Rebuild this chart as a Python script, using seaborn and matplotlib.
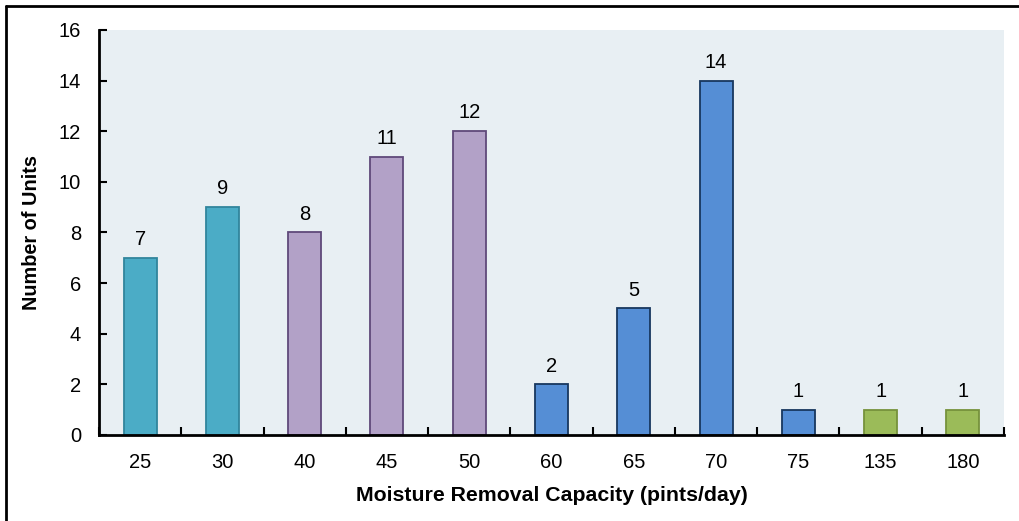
import matplotlib
matplotlib.use("Agg")
import matplotlib.pyplot as plt
from matplotlib.lines import Line2D
import seaborn as sns
import pandas as pd

capacity = ["25", "30", "40", "45", "50", "60", "65", "70", "75", "135", "180"]
units = [7, 9, 8, 11, 12, 2, 5, 14, 1, 1, 1]
group = ["a", "a", "b", "b", "b", "c", "c", "c", "c", "d", "d"]

fills = {"a": "#4BACC6", "b": "#B2A1C7", "c": "#558ED5", "d": "#9BBB59"}
edges = {"a": "#31859C", "b": "#5F497A", "c": "#17375E", "d": "#76923C"}

df = pd.DataFrame({"capacity": capacity, "units": units, "group": group})

sns.set_theme(style="white")
plt.rcParams["font.family"] = ["Liberation Sans", "DejaVu Sans"]

fig = plt.figure(figsize=(10.2, 5.21), dpi=100)
ax = fig.add_axes([99 / 1020, 1 - 435 / 521, (1004 - 99) / 1020, (435 - 30) / 521])
ax.set_facecolor("#E8EFF3")

sns.barplot(data=df, x="capacity", y="units", hue="group", palette=fills,
            dodge=False, width=0.4, legend=False, ax=ax, saturation=1)

for patch, g in zip(ax.patches, group):
    patch.set_edgecolor(edges[g])
    patch.set_linewidth(1.3)

for i, v in enumerate(units):
    ax.text(i, v + 0.35, str(v), ha="center", va="bottom", fontsize=14.5, color="black")

ax.set_xlim(-0.5, len(capacity) - 0.5)
ax.set_ylim(0, 16)
ax.set_yticks(range(0, 17, 2))

# category boundary ticks pointing into the plot
ax.set_xticks([i + 0.5 for i in range(-1, len(capacity))], minor=True)
ax.set_xticks(range(len(capacity)))
ax.tick_params(axis="x", which="major", length=0, pad=13, labelsize=14.5, labelcolor="black")
ax.tick_params(axis="x", which="minor", direction="in", length=6, width=1.5, color="black", bottom=True)
ax.tick_params(axis="y", direction="in", length=6, width=1.5, color="black", left=True,
               labelsize=14.5, pad=13, labelcolor="black")

for s in ["top", "right"]:
    ax.spines[s].set_visible(False)
for s in ["left", "bottom"]:
    ax.spines[s].set_color("black")
    ax.spines[s].set_linewidth(2)

ax.set_xlabel("Moisture Removal Capacity (pints/day)", fontsize=15.3, fontweight="bold",
              labelpad=10, color="black")
ax.set_ylabel("Number of Units", fontsize=14.3, fontweight="bold", labelpad=13, color="black")

fig.add_artist(Line2D([6 / 1020, 1], [1 - 6 / 521, 1 - 6 / 521], color="black", lw=2, transform=fig.transFigure))
fig.add_artist(Line2D([6 / 1020, 6 / 1020], [0, 1 - 6 / 521], color="black", lw=2, transform=fig.transFigure))

fig.savefig("out.png", dpi=100)
